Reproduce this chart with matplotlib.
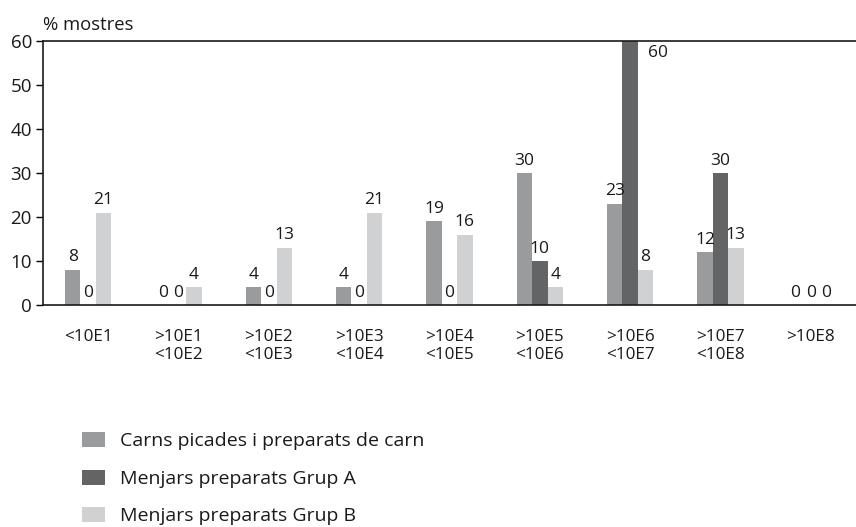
import numpy as np
import matplotlib
matplotlib.use("Agg")
from matplotlib import pyplot as plt
from matplotlib.patches import Patch

plt.rcParams['font.family'] = ['Open Sans', 'DejaVu Sans']

categories = ["<10E1", ">10E1\n<10E2", ">10E2\n<10E3", ">10E3\n<10E4", ">10E4\n<10E5",
              ">10E5\n<10E6", ">10E6\n<10E7", ">10E7\n<10E8", ">10E8"]
carns = [8, 0, 4, 4, 19, 30, 23, 12, 0]
grup_a = [0, 0, 0, 0, 0, 10, 60, 30, 0]
grup_b = [21, 4, 13, 21, 16, 4, 8, 13, 0]
series_names = ["Carns picades i preparats de carn", "Menjars preparats Grup A",
                "Menjars preparats Grup B"]
colors = ["#9a9b9d", "#636466", "#d0d1d3"]

fig = plt.figure(figsize=(8.56, 5.27), dpi=100)
ax = fig.add_axes([43 / 856, 1 - 305 / 527, 1 - 43 / 856, (305 - 41) / 527])

x = np.arange(len(categories))
w = 0.17
ymax = 60
for k, vals in enumerate([carns, grup_a, grup_b]):
    xs = x + (k - 1) * w
    ax.bar(xs, vals, width=w, color=colors[k], linewidth=0)
    for xi, v in zip(xs, vals):
        if v >= ymax:
            ax.annotate(str(v), xy=(xi + w / 2, v), xytext=(7, -3), textcoords="offset points",
                        ha="left", va="top", fontsize=12.5, color="#1a1a1a")
        else:
            ax.annotate(str(v), xy=(xi, v), xytext=(0, 6), textcoords="offset points",
                        ha="center", va="baseline", fontsize=12.5, color="#1a1a1a")

ax.set_xlim(-0.5, len(categories) - 0.5)
ax.set_ylim(0, ymax)
ax.set_yticks(range(0, 61, 10))
ax.set_xticks(x)
ax.set_xticklabels(categories, fontsize=12.3, linespacing=1.2, va="top", color="#1a1a1a")
ax.tick_params(axis="x", length=0, pad=17)
ax.tick_params(axis="y", length=5, width=1, direction="out", labelsize=13.5, pad=3,
               labelcolor="#1a1a1a")
ax.spines["right"].set_visible(False)
for s in ["left", "top", "bottom"]:
    ax.spines[s].set_linewidth(1.2)
    ax.spines[s].set_color("#1a1a1a")

fig.text(43 / 856, 1 - 30 / 527, "% mostres", fontsize=13.3, ha="left", va="baseline",
         color="#1a1a1a")

handles = [Patch(facecolor=c, edgecolor="none") for c in colors]
leg = fig.legend(handles, series_names, loc="upper left", bbox_to_anchor=(82 / 856, 1 - 432 / 527),
                 frameon=False, fontsize=14, handlelength=1.19, handleheight=0.82,
                 handletextpad=0.77, labelspacing=0.99, borderpad=0, borderaxespad=0)
for t in leg.get_texts():
    t.set_color("#1a1a1a")

fig.savefig("out.png", dpi=100)
